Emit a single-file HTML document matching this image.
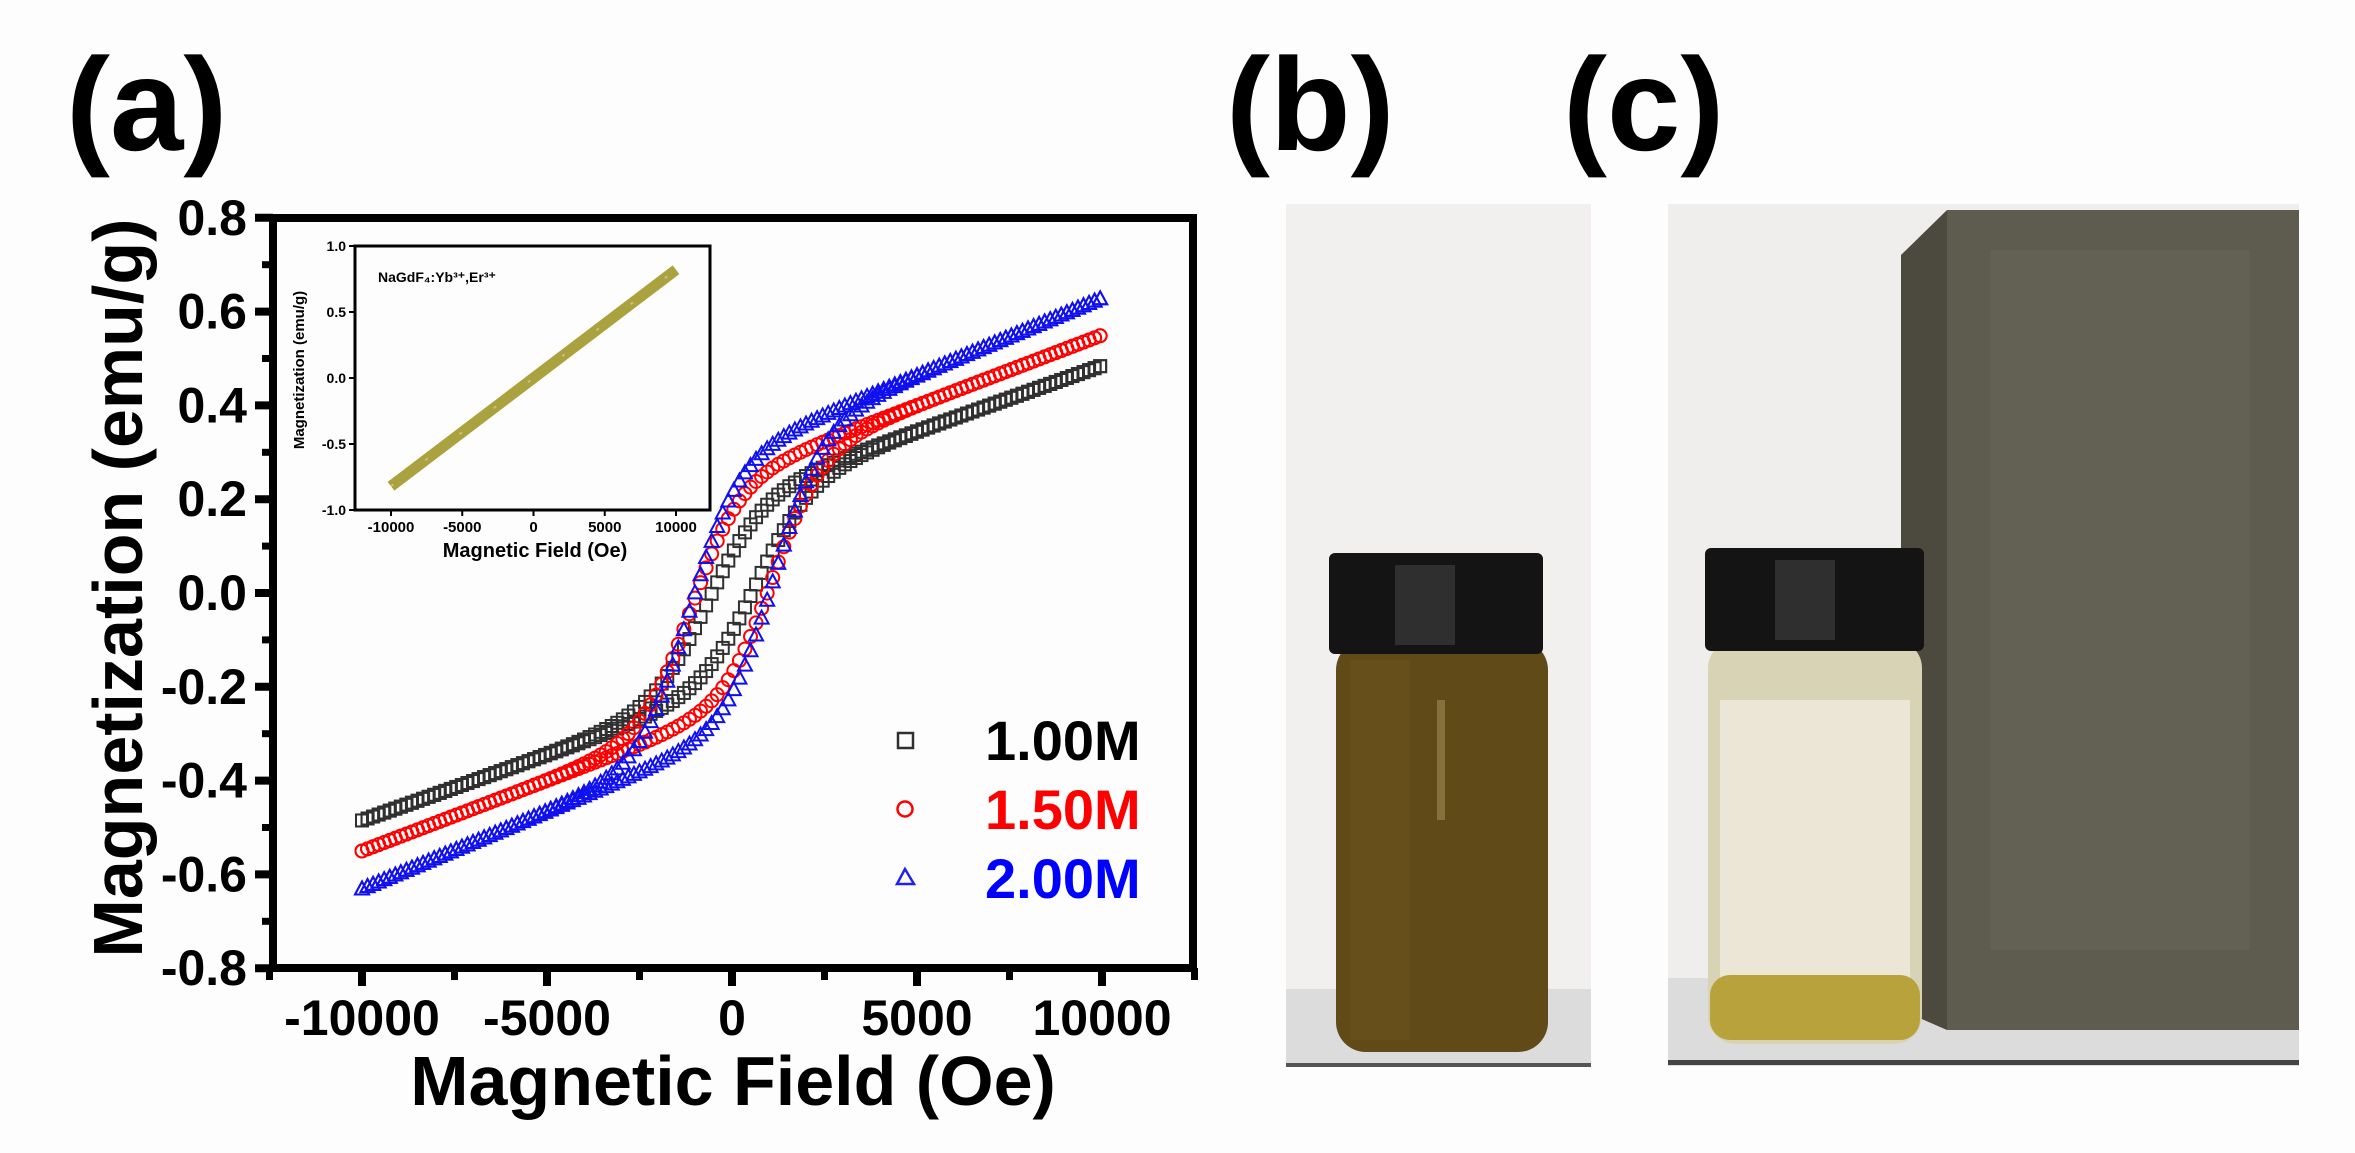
<!DOCTYPE html>
<html><head><meta charset="utf-8"><style>
html,body{margin:0;padding:0;background:#fdfdfd;}
svg{display:block;}
text{font-family:"Liberation Sans",Arial,sans-serif;font-weight:bold;}
</style></head><body>
<svg id="s" width="2355" height="1153" viewBox="0 0 2355 1153" xmlns="http://www.w3.org/2000/svg">
<rect width="2355" height="1153" fill="#fdfdfd"/>
<!-- labels -->
<text x="66" y="150" font-size="132" fill="#000">(a)</text>
<text x="1226" y="150" font-size="132" fill="#000">(b)</text>
<text x="1563" y="150" font-size="132" fill="#000">(c)</text>

<g id="plot"></g>

<!-- panel b photo -->
<rect x="1286" y="204" width="305" height="862" fill="#f1f0ef"/>
<rect x="1286" y="989" width="305" height="77" fill="#dcdcdc"/>
<rect x="1286" y="1063" width="305" height="4" fill="#555"/>
<rect x="1336" y="640" width="212" height="412" rx="30" fill="#5f4a18"/>
<rect x="1350" y="660" width="60" height="380" fill="#6b541e" opacity="0.6"/>
<rect x="1437" y="700" width="8" height="120" fill="#8f7a45" opacity="0.8"/>
<rect x="1329" y="553" width="214" height="101" rx="6" fill="#141414"/>
<rect x="1395" y="565" width="60" height="80" fill="#3a3a3a" opacity="0.7"/>

<!-- panel c photo -->
<rect x="1668" y="204" width="631" height="862" fill="#efeeed"/>
<rect x="1668" y="978" width="631" height="88" fill="#dcdcdc"/>
<rect x="1668" y="1060" width="631" height="5" fill="#444"/>
<polygon points="1901,255 1947,210 2299,210 2299,1030 1947,1030 1901,1010" fill="#4c4a3f"/>
<rect x="1947" y="210" width="352" height="820" fill="#5e5c4e"/>
<rect x="1990" y="250" width="260" height="700" fill="#686657" opacity="0.5"/>
<rect x="1708" y="640" width="214" height="404" rx="28" fill="#d9d3b6"/>
<rect x="1720" y="700" width="190" height="280" fill="#ece6d6"/>
<rect x="1710" y="975" width="210" height="65" rx="20" fill="#b8a23c"/>
<rect x="1705" y="548" width="219" height="103" rx="6" fill="#141414"/>
<rect x="1775" y="560" width="60" height="80" fill="#3a3a3a" opacity="0.7"/>
</svg>
<script>
var NS="http://www.w3.org/2000/svg";
var g=document.getElementById('plot');
function el(t,a,txt){var e=document.createElementNS(NS,t);for(var k in a)e.setAttribute(k,a[k]);if(txt!==undefined)e.textContent=txt;g.appendChild(e);return e;}
var X=function(H){return 732+H*0.037;}, Y=function(M){return 593-M*469;};
// axes frame
el('rect',{x:273,y:218,width:920,height:750,fill:'none',stroke:'#000','stroke-width':8});
// y ticks
for(var i=-8;i<=8;i++){var y=Y(i/10);var maj=(i%2===0);
 el('line',{x1:273,x2:maj?255:262,y1:y,y2:y,stroke:'#000','stroke-width':maj?8:7});
 if(maj){el('text',{x:247,y:y+17,'font-size':50,'text-anchor':'end',fill:'#000'},(i/10).toFixed(1));}}
for(var h=-12500;h<=12500;h+=2500){var x=X(h);var maj=(h%5000===0);
 el('line',{x1:x,x2:x,y1:968,y2:maj?986:980,stroke:'#000','stroke-width':maj?8:7});
 if(maj)el('text',{x:x,y:1035,'font-size':50,'text-anchor':'middle',fill:'#000'},String(h));}
el('text',{x:733,y:1105,'font-size':70,'text-anchor':'middle',fill:'#000'},'Magnetic Field (Oe)');
el('text',{x:0,y:0,'font-size':70,'text-anchor':'middle',fill:'#000',transform:'translate(142,588) rotate(-90)'},'Magnetization (emu/g)');
// series
var ser=[{c:'#303030',s:0.28,a:0.205,hc:650,w:1500,m:'sq'},{c:'#f00',s:0.30,a:0.25,hc:1100,w:1300,m:'ci'},{c:'#1010ee',s:0.33,a:0.30,hc:1150,w:1300,m:'tr'}];
ser.forEach(function(p){
 function f(H,br){return p.s*H/1e4+p.a*Math.tanh((H+br*p.hc)/p.w);}
 [1,-1].forEach(function(br){
  for(var H=-10000;H<=10000;H+=150){var x=X(H),y=Y(f(H,br));
   if(p.m==='sq')el('rect',{x:x-6,y:y-6,width:12,height:12,fill:'none',stroke:p.c,'stroke-width':2});
   else if(p.m==='ci')el('circle',{cx:x,cy:y,r:6.5,fill:'none',stroke:p.c,'stroke-width':2});
   else el('polygon',{points:(x)+','+(y-7)+' '+(x-7)+','+(y+6)+' '+(x+7)+','+(y+6),fill:'none',stroke:p.c,'stroke-width':2});
  }});
});
// legend
el('rect',{x:898,y:733,width:15,height:15,fill:'none',stroke:'#303030','stroke-width':2.5});
el('circle',{cx:905,cy:809,r:7.5,fill:'none',stroke:'#f00','stroke-width':2.5});
el('polygon',{points:'905,869 897,884 914,884',fill:'none',stroke:'#22e','stroke-width':2.5});
el('text',{x:985,y:760,'font-size':56,fill:'#000'},'1.00M');
el('text',{x:985,y:829,'font-size':56,fill:'#f00'},'1.50M');
el('text',{x:985,y:898,'font-size':56,fill:'#00f'},'2.00M');
// inset
var IX=function(H){return 391+(H+10000)*0.01425;}, IY=function(M){return 378-M*132;};
el('rect',{x:355,y:246,width:355,height:264,fill:'#fdfdfd',stroke:'#000','stroke-width':3});
el('line',{x1:IX(-10000),y1:IY(-0.82),x2:IX(10000),y2:IY(0.82),stroke:'#a9a23e','stroke-width':11});
el('line',{x1:IX(-10000),y1:IY(-0.82),x2:IX(10000),y2:IY(0.82),stroke:'#c9c27a','stroke-width':2,'stroke-dasharray':'3 40'});
[-1,-0.5,0,0.5,1].forEach(function(v){var y=IY(v);el('line',{x1:355,x2:349,y1:y,y2:y,stroke:'#000','stroke-width':2});
 el('text',{x:346,y:y+5,'font-size':14,'text-anchor':'end',fill:'#000'},v.toFixed(1));});
[-10000,-5000,0,5000,10000].forEach(function(v){var x=IX(v);el('line',{x1:x,x2:x,y1:510,y2:516,stroke:'#000','stroke-width':2});
 el('text',{x:x,y:532,'font-size':15,'text-anchor':'middle',fill:'#000'},String(v));});
el('text',{x:535,y:557,'font-size':20,'text-anchor':'middle',fill:'#000'},'Magnetic Field (Oe)');
el('text',{x:0,y:0,'font-size':15,'text-anchor':'middle',fill:'#000',transform:'translate(304,370) rotate(-90)'},'Magnetization (emu/g)');
el('text',{x:378,y:282,'font-size':14,fill:'#000'},'NaGdF\u2084:Yb\u00b3\u207a,Er\u00b3\u207a');
</script>
</body></html>
